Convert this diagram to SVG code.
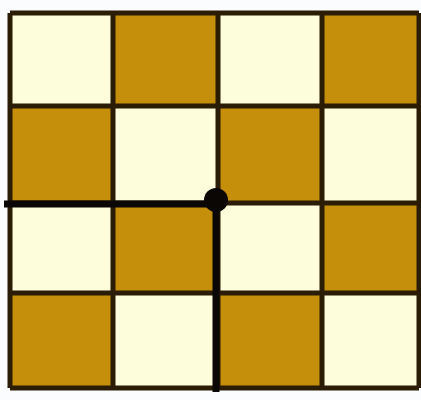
<svg xmlns="http://www.w3.org/2000/svg" width="421" height="400" viewBox="0 0 421 400">
<style>
.c{fill:#FEFDDB}
.b{fill:#C58F0B}
.g{stroke:#2B1C05;stroke-width:5;fill:none}
.p{stroke:#0A0704;stroke-width:7;fill:none;stroke-linejoin:round}
</style>
<rect width="421" height="400" fill="#FBFCFD"/>
<g id="board">
<rect class="c" x="10" y="13" width="103" height="93"/>
<rect class="b" x="113" y="13" width="105" height="93"/>
<rect class="c" x="218" y="13" width="104" height="93"/>
<rect class="b" x="322" y="13" width="97" height="93"/>
<rect class="b" x="10" y="106" width="103" height="97"/>
<rect class="c" x="113" y="106" width="105" height="97"/>
<rect class="b" x="218" y="106" width="104" height="97"/>
<rect class="c" x="322" y="106" width="97" height="97"/>
<rect class="c" x="10" y="203" width="103" height="90"/>
<rect class="b" x="113" y="203" width="105" height="90"/>
<rect class="c" x="218" y="203" width="104" height="90"/>
<rect class="b" x="322" y="203" width="97" height="90"/>
<rect class="b" x="10" y="293" width="103" height="95"/>
<rect class="c" x="113" y="293" width="105" height="95"/>
<rect class="b" x="218" y="293" width="104" height="95"/>
<rect class="c" x="322" y="293" width="97" height="95"/>
</g>
<g id="grid">
<path class="g" d="M10 13V388M113 13V388M218 13V388M322 13V388M419 13V388M10 13H419M10 106H419M10 203H419M10 293H419M10 388H419"/>
</g>
<g id="connectors">
<path class="p" d="M4 204H216V392"/>
</g>
<g id="dot">
<circle cx="216" cy="200" r="12" fill="#0A0704"/>
</g>
</svg>
